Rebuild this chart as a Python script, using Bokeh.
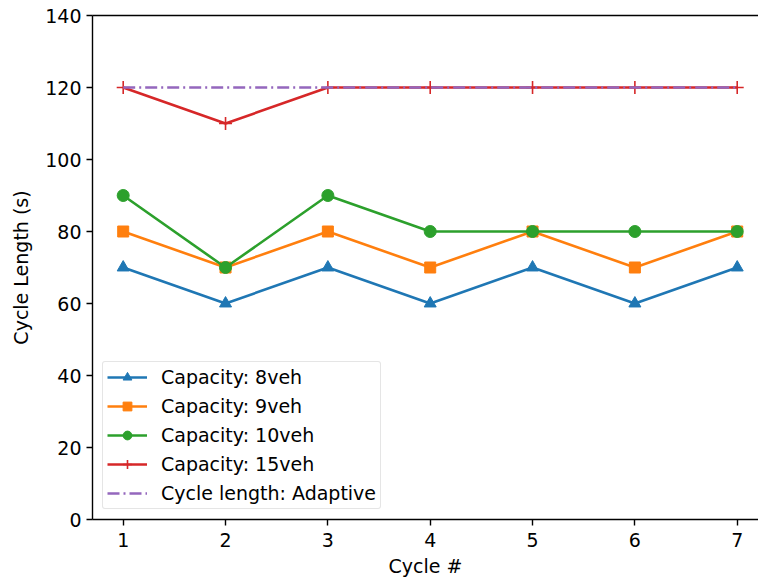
from bokeh.plotting import figure
from bokeh.models import Range1d, FixedTicker, LinearAxis, Legend, LegendItem
from bokeh.embed import file_html
from bokeh.resources import INLINE

cycles = [1, 2, 3, 4, 5, 6, 7]
cap_8 = [70, 60, 70, 60, 70, 60, 70]
cap_9 = [80, 70, 80, 70, 80, 70, 80]
cap_10 = [90, 70, 90, 80, 80, 80, 80]
cap_15 = [120, 110, 120, 120, 120, 120, 120]
adaptive = [120, 120, 120, 120, 120, 120, 120]
y_ticks = [0, 20, 40, 60, 80, 100, 120, 140]

FONT = "DejaVu Sans"
FS = "19px"

p = figure(width=758, height=581, output_backend="svg", toolbar_location=None,
           x_range=Range1d(0.7, 7.208), y_range=Range1d(0, 140),
           min_border_left=92, min_border_right=0, min_border_top=15, min_border_bottom=62)
p.outline_line_color = None
p.grid.visible = False
p.background_fill_color = "white"
p.border_fill_color = "white"

for ax in [p.xaxis[0], p.yaxis[0]]:
    ax.axis_line_color = "black"
    ax.axis_line_width = 1.4
    ax.major_tick_line_color = "black"
    ax.major_tick_line_width = 1.4
    ax.major_tick_out = 6
    ax.major_tick_in = 0
    ax.minor_tick_line_color = None
    ax.major_label_text_font = FONT
    ax.major_label_text_font_size = FS
    ax.major_label_text_color = "black"
    ax.axis_label_text_font = FONT
    ax.axis_label_text_font_size = FS
    ax.axis_label_text_font_style = "normal"
    ax.axis_label_text_color = "black"
    ax.major_label_standoff = 5

p.xaxis.ticker = FixedTicker(ticks=cycles)
p.yaxis.ticker = FixedTicker(ticks=y_ticks)
p.xaxis.axis_label = "Cycle #"
p.yaxis.axis_label = "Cycle Length (s)"
p.xaxis.major_label_standoff = 7
p.xaxis.axis_label_standoff = 5
p.yaxis.axis_label_standoff = 10

top = LinearAxis(ticker=FixedTicker(ticks=[]), major_label_text_font_size="0px",
                 major_tick_out=0, minor_tick_out=0, axis_line_color="black",
                 axis_line_width=1.4)
p.add_layout(top, "above")

c8, c9, c10, c15, cad = "#1f77b4", "#ff7f0e", "#2ca02c", "#d62728", "#9467bd"
LW = 2.6

l8 = p.line(cycles, cap_8, line_color=c8, line_width=LW)
m8 = p.scatter(cycles, cap_8, marker="triangle", size=12, color=c8)
l9 = p.line(cycles, cap_9, line_color=c9, line_width=LW)
m9 = p.scatter(cycles, cap_9, marker="square", size=11, color=c9)
l10 = p.line(cycles, cap_10, line_color=c10, line_width=LW)
m10 = p.scatter(cycles, cap_10, marker="circle", size=12, color=c10)
l15 = p.line(cycles, cap_15, line_color=c15, line_width=LW)
m15 = p.scatter(cycles, cap_15, marker="cross", size=13, line_color=c15, line_width=1.6)
lad = p.line(cycles, adaptive, line_color=cad, line_width=LW, line_dash="12 4 2 4")

legend = Legend(items=[
    LegendItem(label="Capacity: 8veh", renderers=[l8, m8]),
    LegendItem(label="Capacity: 9veh", renderers=[l9, m9]),
    LegendItem(label="Capacity: 10veh", renderers=[l10, m10]),
    LegendItem(label="Capacity: 15veh", renderers=[l15, m15]),
    LegendItem(label="Cycle length: Adaptive", renderers=[lad]),
], location="bottom_left")
legend.label_text_font = FONT
legend.label_text_font_size = FS
legend.label_text_color = "black"
legend.glyph_width = 40
legend.glyph_height = 22
legend.label_height = 22
legend.spacing = 7
legend.padding = 4
legend.margin = 10
legend.label_standoff = 14
legend.border_line_color = "#cccccc"
legend.border_line_width = 1
legend.border_radius = 3
legend.background_fill_alpha = 0.8
p.add_layout(legend, "center")

open("out.html", "w").write(file_html(p, INLINE))
